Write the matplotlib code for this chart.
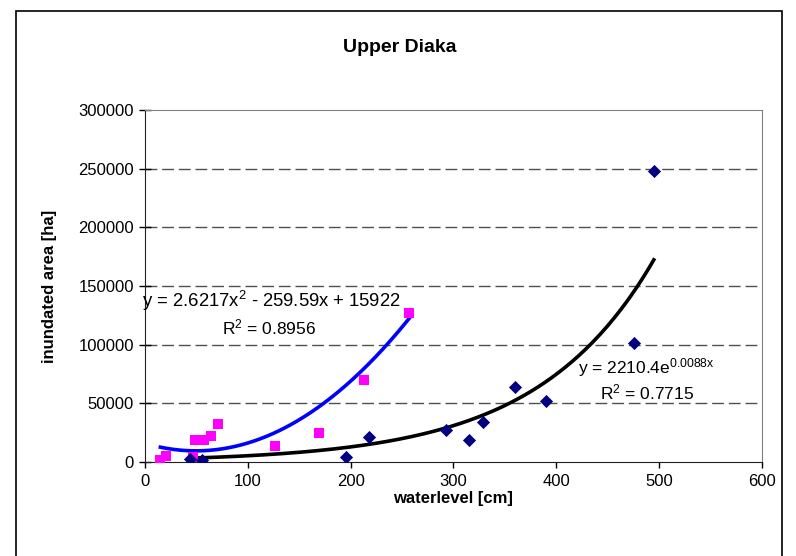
import numpy as np
import matplotlib
matplotlib.use("Agg")
import matplotlib.pyplot as plt
from matplotlib.patches import Rectangle

plt.rcParams['font.family'] = ['Liberation Sans', 'DejaVu Sans']
plt.rcParams['mathtext.fontset'] = 'custom'
plt.rcParams['mathtext.rm'] = 'Liberation Sans'

# Series 1 (pink squares): waterlevel [cm] vs inundated area [ha]
pink_level = [15, 20, 47, 49, 57, 64, 71, 126, 169, 213, 257]
pink_area = [2000, 5500, 4500, 18700, 18700, 22000, 32400, 13600, 25000, 70000, 127300]

# Series 2 (navy diamonds)
navy_level = [44, 55, 196, 218, 293, 315, 329, 360, 390, 476, 495]
navy_area = [2500, 1700, 4000, 21000, 27300, 18700, 34300, 63700, 52200, 101200, 248300]

# Trendline coefficients as printed on the chart
quad_a, quad_b, quad_c = 2.6217, -259.59, 15922
exp_a, exp_k = 2210.4, 0.0088

x_ticks = [0, 100, 200, 300, 400, 500, 600]
y_ticks = [0, 50000, 100000, 150000, 200000, 250000, 300000]

fig = plt.figure(figsize=(7.96, 5.56), dpi=100)
W, H = 796, 556

# outer chart frame
fig.patches.append(Rectangle((16 / W, -0.01), (782 - 16) / W, (556 - 11) / H + 0.01,
                             transform=fig.transFigure, fill=False,
                             edgecolor='black', linewidth=1.2))

ax = fig.add_axes([145 / W, (H - 462) / H, (761.7 - 145) / W, (462 - 110) / H])
ax.set_xlim(0, 600)
ax.set_ylim(0, 300000)
ax.set_xticks(x_ticks)
ax.set_yticks(y_ticks)
ax.set_xticklabels([str(v) for v in x_ticks])
ax.set_yticklabels([str(v) for v in y_ticks])
ax.tick_params(axis='both', labelsize=12, colors='black')
ax.tick_params(axis='x', direction='out', length=4, width=1, pad=5)
ax.tick_params(axis='y', direction='inout', length=8, width=1, pad=4)

for v in y_ticks[1:-1]:
    ax.axhline(v, color='#505050', linewidth=1, linestyle=(0, (8.5, 3.5)), zorder=1)

ax.spines['top'].set_color('#808080')
ax.spines['right'].set_color('#808080')
ax.spines['left'].set_color('#202020')
ax.spines['bottom'].set_color('#202020')

# quadratic trendline for the pink series
xq = np.linspace(min(pink_level), max(pink_level), 200)
ax.plot(xq, quad_a * xq**2 + quad_b * xq + quad_c, color='#0000FF', linewidth=2.6, zorder=3)

# exponential trendline for the navy series
xe = np.linspace(min(navy_level), max(navy_level), 200)
ax.plot(xe, exp_a * np.exp(exp_k * xe), color='black', linewidth=2.6, zorder=3)

ax.scatter(pink_level, pink_area, marker='s', s=55, color='#FF00FF', zorder=4, linewidths=0)
ax.scatter(navy_level, navy_area, marker='D', s=45, color='#000080', zorder=5, linewidths=0)

ax.set_xlabel('waterlevel [cm]', fontsize=12, fontweight='bold', labelpad=1)
ax.set_ylabel('inundated area [ha]', fontsize=12, fontweight='bold', labelpad=15)

fig.text(400 / W, 1 - 48 / H, 'Upper Diaka', ha='center', va='center',
         fontsize=14, fontweight='bold')

ax.text(-3, 137000, r'y = 2.6217x$\mathregular{^{2}}$ - 259.59x + 15922',
        fontsize=13.3, ha='left', va='center', zorder=6)
ax.text(75, 115000, r'R$\mathregular{^{2}}$ = 0.8956',
        fontsize=12.5, ha='left', va='center', zorder=6)
ax.text(421, 80500, r'y = 2210.4e$\mathregular{^{0.0088x}}$',
        fontsize=12.5, ha='left', va='center', zorder=6)
ax.text(443, 59500, r'R$\mathregular{^{2}}$ = 0.7715',
        fontsize=12.5, ha='left', va='center', zorder=6)

fig.savefig('out.png', dpi=100)
